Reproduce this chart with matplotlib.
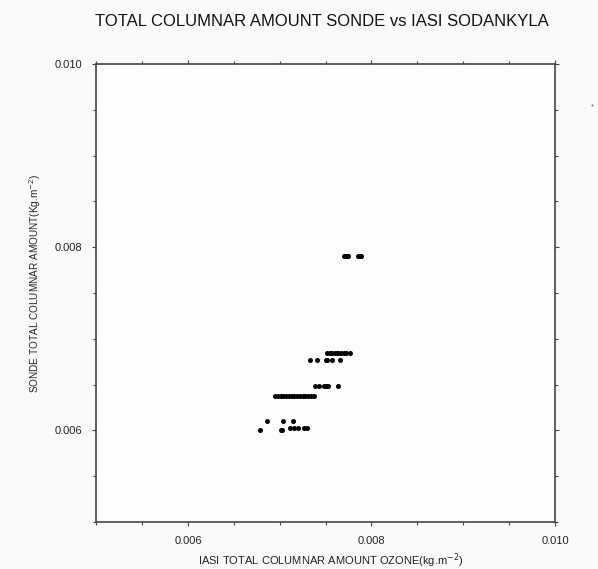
import matplotlib
matplotlib.use("Agg")
import matplotlib.pyplot as plt
from matplotlib.ticker import MultipleLocator

plt.rcParams['font.family'] = ['Liberation Sans', 'DejaVu Sans']

# IASI total columnar ozone (x) against sonde total columnar amount (y), kg/m^2
iasi_ozone = [
    0.00678, 0.00701, 0.00703,
    0.00686, 0.00704, 0.00714,
    0.00711, 0.00715, 0.00720, 0.00726, 0.00730,
    0.00695, 0.00698, 0.00701, 0.00704, 0.00707, 0.00710, 0.00713, 0.00716,
    0.00719, 0.00722, 0.00725, 0.00728, 0.00731, 0.00734, 0.00737,
    0.00738, 0.00743, 0.00748, 0.00750, 0.00753, 0.00763,
    0.00733, 0.00741, 0.00750, 0.00752, 0.00757, 0.00766,
    0.00752, 0.00755, 0.00757, 0.00760, 0.00762, 0.00764, 0.00767, 0.00770,
    0.00772, 0.00777,
    0.00770, 0.00771, 0.00772, 0.00773, 0.00774, 0.00785, 0.00787, 0.00789,
]
sonde_amount = [
    0.00600, 0.00600, 0.00600,
    0.00610, 0.00610, 0.00610,
    0.00603, 0.00603, 0.00603, 0.00603, 0.00603,
    0.00638, 0.00638, 0.00638, 0.00638, 0.00638, 0.00638, 0.00638, 0.00638,
    0.00638, 0.00638, 0.00638, 0.00638, 0.00638, 0.00638, 0.00638,
    0.00648, 0.00648, 0.00648, 0.00648, 0.00648, 0.00648,
    0.00677, 0.00677, 0.00677, 0.00677, 0.00677, 0.00677,
    0.00684, 0.00684, 0.00684, 0.00684, 0.00684, 0.00684, 0.00684, 0.00684,
    0.00684, 0.00684,
    0.00790, 0.00790, 0.00790, 0.00790, 0.00790, 0.00790, 0.00790, 0.00790,
]

# single point falling outside the plotted range
outlier_x = [0.01040]
outlier_y = [0.009555]

tick_vals = [0.006, 0.008, 0.010]
tick_text = ['0.006', '0.008', '0.010']

fig = plt.figure(figsize=(5.98, 5.69), dpi=100, facecolor='#fafafa')
ax = fig.add_axes([0.161, 0.0826, 0.767, 0.805])
ax.set_facecolor('#fdfdfd')

ax.plot(iasi_ozone, sonde_amount, 'o', color='black', markersize=3.6,
        markeredgewidth=0)
ax.plot(outlier_x, outlier_y, 'o', color='#777777', markersize=1.5,
        markeredgewidth=0, clip_on=False)

ax.set_xlim(0.005, 0.010)
ax.set_ylim(0.005, 0.010)
ax.xaxis.set_minor_locator(MultipleLocator(0.0005))
ax.yaxis.set_minor_locator(MultipleLocator(0.0005))
ax.set_xticks(tick_vals)
ax.set_yticks(tick_vals)
ax.set_xticklabels(tick_text)
ax.set_yticklabels(tick_text)

for s in ax.spines.values():
    s.set_color('#444444')
    s.set_linewidth(1.2)

ax.tick_params(which='both', direction='out', top=True, right=True,
               color='#444444', width=0.8, labelsize=8, labelcolor='#222222')
ax.tick_params(which='major', length=3.2, pad=7)
ax.tick_params(which='minor', length=2)

ax.set_xlabel('IASI TOTAL COLUMNAR AMOUNT OZONE(kg.m$^{-2}$)', fontsize=8,
              color='#222222')
ax.set_ylabel('SONDE TOTAL COLUMNAR AMOUNT(Kg.m$^{-2}$)', fontsize=7.2,
              color='#222222')
ax.xaxis.set_label_coords(0.512, -0.064)
ax.yaxis.set_label_coords(-0.116, 0.52)

fig.text(0.538, 0.963, 'TOTAL COLUMNAR AMOUNT SONDE vs IASI SODANKYLA',
         ha='center', va='center', fontsize=12, color='#111111')

fig.savefig('out.png', dpi=100, facecolor=fig.get_facecolor())
